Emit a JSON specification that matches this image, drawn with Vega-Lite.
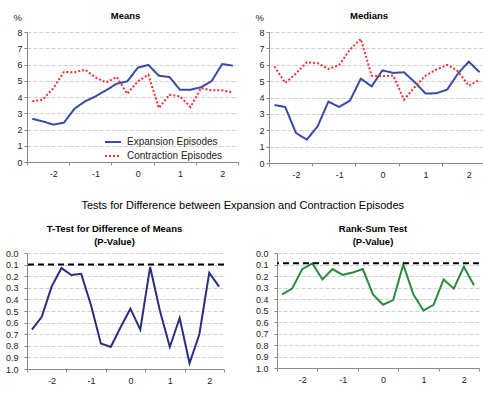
{
  "$schema": "https://vega.github.io/schema/vega-lite/v6.json",
  "background": "white",
  "padding": {"left": 5, "top": 10, "right": 0, "bottom": 0},
  "config": {
    "font": "Liberation Sans",
    "view": {"stroke": null},
    "title": {"fontSize": 9.5, "fontWeight": "bold", "color": "#000", "offset": 10},
    "axis": {"labelFontSize": 9, "labelColor": "#222", "domainColor": "#888", "tickColor": "#888", "tickSize": 3, "labelPadding": 2, "gridColor": "#d0d0d0", "gridDash": [4, 2], "titleFontWeight": "normal", "titleFontSize": 9.5, "titleColor": "#222", "labelOverlap": false}
  },
  "datasets": {
    "levels": [
      {"panel":"Means","series":"Expansion Episodes","q":-2.5,"v":2.66},
      {"panel":"Means","series":"Expansion Episodes","q":-2.25,"v":2.5},
      {"panel":"Means","series":"Expansion Episodes","q":-2,"v":2.3},
      {"panel":"Means","series":"Expansion Episodes","q":-1.75,"v":2.42},
      {"panel":"Means","series":"Expansion Episodes","q":-1.5,"v":3.28},
      {"panel":"Means","series":"Expansion Episodes","q":-1.25,"v":3.73},
      {"panel":"Means","series":"Expansion Episodes","q":-1,"v":4.04},
      {"panel":"Means","series":"Expansion Episodes","q":-0.75,"v":4.41},
      {"panel":"Means","series":"Expansion Episodes","q":-0.5,"v":4.82},
      {"panel":"Means","series":"Expansion Episodes","q":-0.25,"v":4.96},
      {"panel":"Means","series":"Expansion Episodes","q":0,"v":5.8},
      {"panel":"Means","series":"Expansion Episodes","q":0.25,"v":5.97},
      {"panel":"Means","series":"Expansion Episodes","q":0.5,"v":5.31},
      {"panel":"Means","series":"Expansion Episodes","q":0.75,"v":5.23},
      {"panel":"Means","series":"Expansion Episodes","q":1,"v":4.45},
      {"panel":"Means","series":"Expansion Episodes","q":1.25,"v":4.45},
      {"panel":"Means","series":"Expansion Episodes","q":1.5,"v":4.6},
      {"panel":"Means","series":"Expansion Episodes","q":1.75,"v":4.98},
      {"panel":"Means","series":"Expansion Episodes","q":2,"v":6.03},
      {"panel":"Means","series":"Expansion Episodes","q":2.25,"v":5.93},
      {"panel":"Means","series":"Contraction Episodes","q":-2.5,"v":3.73},
      {"panel":"Means","series":"Contraction Episodes","q":-2.25,"v":3.84},
      {"panel":"Means","series":"Contraction Episodes","q":-2,"v":4.55},
      {"panel":"Means","series":"Contraction Episodes","q":-1.75,"v":5.54},
      {"panel":"Means","series":"Contraction Episodes","q":-1.5,"v":5.52},
      {"panel":"Means","series":"Contraction Episodes","q":-1.25,"v":5.68},
      {"panel":"Means","series":"Contraction Episodes","q":-1,"v":5.2},
      {"panel":"Means","series":"Contraction Episodes","q":-0.75,"v":4.9},
      {"panel":"Means","series":"Contraction Episodes","q":-0.5,"v":5.23},
      {"panel":"Means","series":"Contraction Episodes","q":-0.25,"v":4.2},
      {"panel":"Means","series":"Contraction Episodes","q":0,"v":4.96},
      {"panel":"Means","series":"Contraction Episodes","q":0.25,"v":5.37},
      {"panel":"Means","series":"Contraction Episodes","q":0.5,"v":3.32},
      {"panel":"Means","series":"Contraction Episodes","q":0.75,"v":4.14},
      {"panel":"Means","series":"Contraction Episodes","q":1,"v":4.04},
      {"panel":"Means","series":"Contraction Episodes","q":1.25,"v":3.38},
      {"panel":"Means","series":"Contraction Episodes","q":1.5,"v":4.55},
      {"panel":"Means","series":"Contraction Episodes","q":1.75,"v":4.41},
      {"panel":"Means","series":"Contraction Episodes","q":2,"v":4.41},
      {"panel":"Means","series":"Contraction Episodes","q":2.25,"v":4.29},
      {"panel":"Medians","series":"Expansion Episodes","q":-2.5,"v":3.54},
      {"panel":"Medians","series":"Expansion Episodes","q":-2.25,"v":3.42},
      {"panel":"Medians","series":"Expansion Episodes","q":-2,"v":1.83},
      {"panel":"Medians","series":"Expansion Episodes","q":-1.75,"v":1.43},
      {"panel":"Medians","series":"Expansion Episodes","q":-1.5,"v":2.24},
      {"panel":"Medians","series":"Expansion Episodes","q":-1.25,"v":3.75},
      {"panel":"Medians","series":"Expansion Episodes","q":-1,"v":3.42},
      {"panel":"Medians","series":"Expansion Episodes","q":-0.75,"v":3.81},
      {"panel":"Medians","series":"Expansion Episodes","q":-0.5,"v":5.15},
      {"panel":"Medians","series":"Expansion Episodes","q":-0.25,"v":4.68},
      {"panel":"Medians","series":"Expansion Episodes","q":0,"v":5.66},
      {"panel":"Medians","series":"Expansion Episodes","q":0.25,"v":5.5},
      {"panel":"Medians","series":"Expansion Episodes","q":0.5,"v":5.54},
      {"panel":"Medians","series":"Expansion Episodes","q":0.75,"v":4.93},
      {"panel":"Medians","series":"Expansion Episodes","q":1,"v":4.24},
      {"panel":"Medians","series":"Expansion Episodes","q":1.25,"v":4.26},
      {"panel":"Medians","series":"Expansion Episodes","q":1.5,"v":4.48},
      {"panel":"Medians","series":"Expansion Episodes","q":1.75,"v":5.46},
      {"panel":"Medians","series":"Expansion Episodes","q":2,"v":6.19},
      {"panel":"Medians","series":"Expansion Episodes","q":2.25,"v":5.54},
      {"panel":"Medians","series":"Contraction Episodes","q":-2.5,"v":5.9},
      {"panel":"Medians","series":"Contraction Episodes","q":-2.25,"v":4.89},
      {"panel":"Medians","series":"Contraction Episodes","q":-2,"v":5.46},
      {"panel":"Medians","series":"Contraction Episodes","q":-1.75,"v":6.15},
      {"panel":"Medians","series":"Contraction Episodes","q":-1.5,"v":6.1},
      {"panel":"Medians","series":"Contraction Episodes","q":-1.25,"v":5.74},
      {"panel":"Medians","series":"Contraction Episodes","q":-1,"v":5.99},
      {"panel":"Medians","series":"Contraction Episodes","q":-0.75,"v":6.93},
      {"panel":"Medians","series":"Contraction Episodes","q":-0.5,"v":7.58},
      {"panel":"Medians","series":"Contraction Episodes","q":-0.25,"v":5.34},
      {"panel":"Medians","series":"Contraction Episodes","q":0,"v":5.3},
      {"panel":"Medians","series":"Contraction Episodes","q":0.25,"v":5.34},
      {"panel":"Medians","series":"Contraction Episodes","q":0.5,"v":3.87},
      {"panel":"Medians","series":"Contraction Episodes","q":0.75,"v":4.64},
      {"panel":"Medians","series":"Contraction Episodes","q":1,"v":5.34},
      {"panel":"Medians","series":"Contraction Episodes","q":1.25,"v":5.7},
      {"panel":"Medians","series":"Contraction Episodes","q":1.5,"v":5.99},
      {"panel":"Medians","series":"Contraction Episodes","q":1.75,"v":5.6},
      {"panel":"Medians","series":"Contraction Episodes","q":2,"v":4.72},
      {"panel":"Medians","series":"Contraction Episodes","q":2.25,"v":5.09}
    ],
    "tests": [
      {"test":"T","q":-2.5,"p":0.66},
      {"test":"T","q":-2.25,"p":0.55},
      {"test":"T","q":-2,"p":0.29},
      {"test":"T","q":-1.75,"p":0.13},
      {"test":"T","q":-1.5,"p":0.19},
      {"test":"T","q":-1.25,"p":0.18},
      {"test":"T","q":-1,"p":0.45},
      {"test":"T","q":-0.75,"p":0.78},
      {"test":"T","q":-0.5,"p":0.81},
      {"test":"T","q":-0.25,"p":0.64},
      {"test":"T","q":0,"p":0.48},
      {"test":"T","q":0.25,"p":0.66},
      {"test":"T","q":0.5,"p":0.12},
      {"test":"T","q":0.75,"p":0.5},
      {"test":"T","q":1,"p":0.81},
      {"test":"T","q":1.25,"p":0.56},
      {"test":"T","q":1.5,"p":0.95},
      {"test":"T","q":1.75,"p":0.7},
      {"test":"T","q":2,"p":0.17},
      {"test":"T","q":2.25,"p":0.29},
      {"test":"R","q":-2.5,"p":0.36},
      {"test":"R","q":-2.25,"p":0.31},
      {"test":"R","q":-2,"p":0.14},
      {"test":"R","q":-1.75,"p":0.09},
      {"test":"R","q":-1.5,"p":0.23},
      {"test":"R","q":-1.25,"p":0.14},
      {"test":"R","q":-1,"p":0.19},
      {"test":"R","q":-0.75,"p":0.17},
      {"test":"R","q":-0.5,"p":0.14},
      {"test":"R","q":-0.25,"p":0.36},
      {"test":"R","q":0,"p":0.45},
      {"test":"R","q":0.25,"p":0.41},
      {"test":"R","q":0.5,"p":0.1},
      {"test":"R","q":0.75,"p":0.36},
      {"test":"R","q":1,"p":0.5},
      {"test":"R","q":1.25,"p":0.45},
      {"test":"R","q":1.5,"p":0.23},
      {"test":"R","q":1.75,"p":0.31},
      {"test":"R","q":2,"p":0.12},
      {"test":"R","q":2.25,"p":0.28}
    ],
    "thresholds": [
      {"test":"T","p":0.1},
      {"test":"R","p":0.09}
    ]
  },
  "columns": 1,
  "align": "none",
  "spacing": 20,
  "concat": [
    {
      "spacing": 16,
      "resolve": {"scale": {"color": "independent", "strokeDash": "independent"}, "legend": {"color": "independent", "strokeDash": "independent"}},
      "hconcat": [
        {
          "width": 211, "height": 130,
          "title": {"text": "Means", "dx": -7, "offset": -8},
          "data": {"name": "levels"},
          "transform": [{"filter": "datum.panel == 'Means'"}],
          "mark": {"type": "line", "strokeWidth": 2},
          "encoding": {
            "x": {"field": "q", "type": "quantitative", "scale": {"domain": [-2.625, 2.375], "nice": false, "zero": false},
              "axis": {"title": null, "grid": false, "values": [-2.625, -2, -1.625, -1, -0.625, 0, 0.375, 1, 1.375, 2, 2.375],
                "labelExpr": "datum.value % 1 == 0 ? toString(datum.value) : ''", "labelFlush": false, "labelPadding": 4,
                "tickOpacity": {"condition": {"test": "datum.value % 1 == 0", "value": 0}, "value": 1}}},
            "y": {"field": "v", "type": "quantitative", "scale": {"domain": [0, 8], "nice": false},
              "axis": {"values": [0,1,2,3,4,5,6,7,8], "title": "%", "titleAngle": 0, "titleAlign": "left", "titleBaseline": "top", "titleX": -14, "titleY": -20}},
            "color": {"field": "series", "type": "nominal", "scale": {"domain": ["Expansion Episodes", "Contraction Episodes"], "range": ["#3A4AA6", "#FF2A2A"]},
              "legend": {"title": null, "orient": "none", "legendX": 77, "legendY": 101, "symbolType": "stroke", "symbolSize": 256, "symbolStrokeWidth": 2, "labelFontSize": 10, "labelColor": "#222", "rowPadding": -6, "labelOffset": 5}},
            "strokeDash": {"field": "series", "type": "nominal", "scale": {"domain": ["Expansion Episodes", "Contraction Episodes"], "range": [[1, 0], [2, 2]]},
              "legend": {"title": null, "orient": "none", "legendX": 77, "legendY": 101, "symbolType": "stroke", "symbolSize": 256, "symbolStrokeWidth": 2, "labelFontSize": 10, "labelColor": "#222", "rowPadding": -6, "labelOffset": 5}}
          }
        },
        {
          "width": 216, "height": 131,
          "title": {"text": "Medians", "dx": -8, "offset": -8},
          "data": {"name": "levels"},
          "transform": [{"filter": "datum.panel == 'Medians'"}],
          "mark": {"type": "line", "strokeWidth": 2},
          "encoding": {
            "x": {"field": "q", "type": "quantitative", "scale": {"domain": [-2.625, 2.375], "nice": false, "zero": false},
              "axis": {"title": null, "grid": false, "values": [-2.625, -2, -1.625, -1, -0.625, 0, 0.375, 1, 1.375, 2, 2.375],
                "labelExpr": "datum.value % 1 == 0 ? toString(datum.value) : ''", "labelFlush": false, "labelPadding": 4,
                "tickOpacity": {"condition": {"test": "datum.value % 1 == 0", "value": 0}, "value": 1}}},
            "y": {"field": "v", "type": "quantitative", "scale": {"domain": [0, 8], "nice": false},
              "axis": {"values": [0,1,2,3,4,5,6,7,8], "title": "%", "titleAngle": 0, "titleAlign": "left", "titleBaseline": "top", "titleX": -14, "titleY": -20}},
            "color": {"field": "series", "type": "nominal", "scale": {"domain": ["Expansion Episodes", "Contraction Episodes"], "range": ["#3A4AA6", "#FF2A2A"]}, "legend": null},
            "strokeDash": {"field": "series", "type": "nominal", "scale": {"domain": ["Expansion Episodes", "Contraction Episodes"], "range": [[1, 0], [2, 2]]}, "legend": null}
          }
        }
      ]
    },
    {
      "spacing": 30,
      "title": {"text": "Tests for Difference between Expansion and Contraction Episodes", "fontSize": 11, "fontWeight": "normal", "anchor": "middle", "offset": 13},
      "hconcat": [
        {
          "width": 197, "height": 116,
          "title": {"text": ["T-Test for Difference of Means", "(P-Value)"], "dx": -11, "lineHeight": 13, "offset": 3},
          "layer": [
            {
              "data": {"name": "tests"},
              "transform": [{"filter": "datum.test == 'T'"}],
              "mark": {"type": "line", "strokeWidth": 2, "color": "#2B2D7E"},
              "encoding": {
                "x": {"field": "q", "type": "quantitative", "scale": {"domain": [-2.625, 2.375], "nice": false, "zero": false},
                  "axis": {"title": null, "grid": false, "values": [-2.625, -2, -1.625, -1, -0.625, 0, 0.375, 1, 1.375, 2, 2.375],
                    "labelExpr": "datum.value % 1 == 0 ? toString(datum.value) : ''", "labelFlush": false, "labelPadding": 4,
                    "tickOpacity": {"condition": {"test": "datum.value % 1 == 0", "value": 0}, "value": 1}}},
                "y": {"field": "p", "type": "quantitative", "scale": {"domain": [0, 1], "nice": false, "reverse": true},
                  "axis": {"title": null, "grid": true, "values": [0,0.1,0.2,0.3,0.4,0.5,0.6,0.7,0.8,0.9,1], "format": ".1f", "labelFlush": false, "labelOverlap": false, "labelPadding": 6}}
              }
            },
            {
              "data": {"name": "thresholds"},
              "transform": [{"filter": "datum.test == 'T'"}],
              "mark": {"type": "rule", "strokeWidth": 2, "color": "#000", "strokeDash": [6, 4]},
              "encoding": {"y": {"field": "p", "type": "quantitative", "scale": {"domain": [0, 1], "nice": false, "reverse": true},
                  "axis": {"title": null, "grid": true, "values": [0,0.1,0.2,0.3,0.4,0.5,0.6,0.7,0.8,0.9,1], "format": ".1f", "labelFlush": false, "labelOverlap": false, "labelPadding": 6}}}
            }
          ]
        },
        {
          "width": 202, "height": 115,
          "title": {"text": ["Rank-Sum Test", "(P-Value)"], "dx": -5, "lineHeight": 13, "offset": 3},
          "layer": [
            {
              "data": {"name": "tests"},
              "transform": [{"filter": "datum.test == 'R'"}],
              "mark": {"type": "line", "strokeWidth": 2, "color": "#2A8A3C"},
              "encoding": {
                "x": {"field": "q", "type": "quantitative", "scale": {"domain": [-2.625, 2.375], "nice": false, "zero": false},
                  "axis": {"title": null, "grid": false, "values": [-2.625, -2, -1.625, -1, -0.625, 0, 0.375, 1, 1.375, 2, 2.375],
                    "labelExpr": "datum.value % 1 == 0 ? toString(datum.value) : ''", "labelFlush": false, "labelPadding": 4,
                    "tickOpacity": {"condition": {"test": "datum.value % 1 == 0", "value": 0}, "value": 1}}},
                "y": {"field": "p", "type": "quantitative", "scale": {"domain": [0, 1], "nice": false, "reverse": true},
                  "axis": {"title": null, "grid": true, "values": [0,0.1,0.2,0.3,0.4,0.5,0.6,0.7,0.8,0.9,1], "format": ".1f", "labelFlush": false, "labelOverlap": false, "labelPadding": 6}}
              }
            },
            {
              "data": {"name": "thresholds"},
              "transform": [{"filter": "datum.test == 'R'"}],
              "mark": {"type": "rule", "strokeWidth": 2, "color": "#000", "strokeDash": [6, 4]},
              "encoding": {"y": {"field": "p", "type": "quantitative", "scale": {"domain": [0, 1], "nice": false, "reverse": true},
                  "axis": {"title": null, "grid": true, "values": [0,0.1,0.2,0.3,0.4,0.5,0.6,0.7,0.8,0.9,1], "format": ".1f", "labelFlush": false, "labelOverlap": false, "labelPadding": 6}}}
            }
          ]
        }
      ]
    }
  ]
}
